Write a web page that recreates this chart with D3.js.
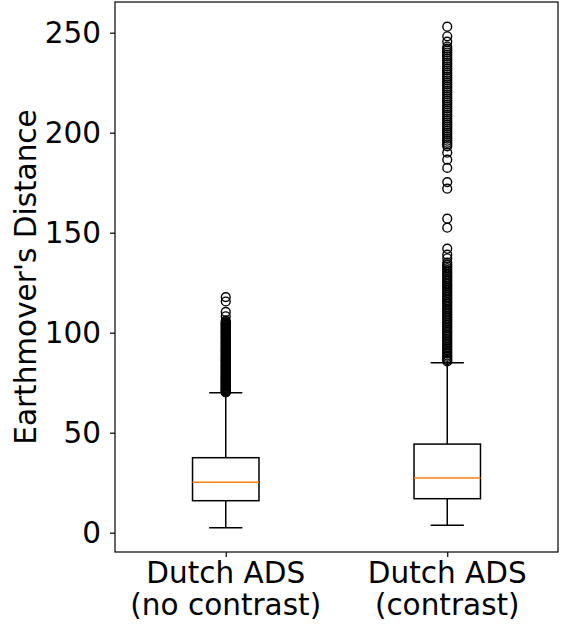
<!DOCTYPE html>
<html>
<head>
<meta charset="utf-8">
<script src="https://cdn.jsdelivr.net/npm/d3@7"></script>
<style>
  html, body { margin: 0; padding: 0; background: #fff; }
  svg { display: block; font-family: "DejaVu Sans", sans-serif; }
</style>
</head>
<body>
<svg id="chart" width="565" height="635"></svg>
<script>
// ---- data ----
const categories = [["Dutch ADS", "(no contrast)"], ["Dutch ADS", "(contrast)"]];
const positions = [1, 2];
const whiskerLow = [2.5, 3.7];
const q1 = [16.0, 17.0];
const median = [25.2, 27.3];
const q3 = [37.5, 44.3];
const whiskerHigh = [70.0, 85.0];
const outliersNoContrast = [70.1, 70.3, 70.6, 70.8, 71.2, 71.5, 71.8, 72.1, 72.5, 72.9, 73.2, 73.4, 73.8, 74.2,
  74.6, 75.0, 75.3, 75.6, 76.0, 76.3, 76.7, 77.1, 77.4, 77.8, 78.1, 78.4, 78.8, 79.2, 79.6, 80.0, 80.3, 80.7,
  81.1, 81.5, 81.8, 82.2, 82.6, 83.0, 83.3, 83.6, 84.0, 84.5, 84.9, 85.3, 85.7, 86.1, 86.4, 86.8, 87.2, 87.5,
  88.0, 88.4, 88.8, 89.2, 89.7, 90.1, 90.5, 90.9, 91.2, 91.6, 92.1, 92.5, 92.9, 93.3, 93.8, 94.2, 94.6, 95.0,
  95.4, 95.9, 96.3, 96.7, 97.2, 97.6, 98.0, 98.4, 98.9, 99.3, 99.8, 100.2, 100.6, 101.0, 101.5, 101.9, 102.4,
  102.8, 103.2, 103.6, 104.1, 104.5, 104.9, 105.3, 106.0, 108.2, 110.4, 115.6, 117.8];
const outliersContrast = [85.6, 86.3, 87.1, 87.9, 88.6, 89.5, 90.3, 91.2, 92.0, 92.8, 93.7, 94.5, 95.4, 96.2,
  97.1, 98.0, 98.8, 99.7, 100.5, 101.4, 102.3, 103.1, 104.0, 104.9, 105.7, 106.6, 107.5, 108.3, 109.2, 110.1,
  111.0, 111.8, 112.7, 113.6, 114.5, 115.3, 116.2, 117.1, 118.0, 118.9, 119.8, 120.6, 121.5, 122.4, 123.3,
  124.2, 125.1, 126.0, 126.8, 127.7, 128.6, 129.5, 130.4, 131.3, 132.2, 133.1, 134.0, 135.0, 137.2, 139.0,
  142.0, 152.5, 157.0, 172.0, 175.3, 182.4, 186.5, 190.0, 193.2, 194.1, 195.0, 196.0, 197.0, 198.0, 199.1,
  200.0, 201.0, 202.1, 203.0, 204.0, 205.1, 206.0, 207.1, 208.1, 209.0, 210.1, 211.0, 212.1, 213.0, 214.1,
  215.1, 216.0, 217.1, 218.0, 219.1, 220.1, 221.0, 222.1, 223.0, 224.1, 225.0, 226.1, 227.1, 228.0, 229.1,
  230.0, 231.1, 232.0, 233.1, 234.1, 235.0, 236.1, 237.0, 238.1, 239.0, 240.1, 241.1, 242.0, 243.1, 245.5,
  248.2, 253.0];
const outliers = [outliersNoContrast, outliersContrast];
const yTicks = [0, 50, 100, 150, 200, 250];
const yLabel = "Earthmover's Distance";

// ---- layout ----
const svg = d3.select("#chart");
const L = 115, R = 558, T = 2, B = 552;
const x = d3.scaleLinear().domain([0.5, 2.5]).range([L, R]);
const y = d3.scaleLinear().domain([-9.65, 265.35]).range([B, T]);
const boxW = 0.3, capW = 0.15;
const fontSize = 29.5;
const lw = 1.5;

// boxes
positions.forEach((p, i) => {
  const g = svg.append("g");
  g.append("line").attr("x1", x(p)).attr("x2", x(p)).attr("y1", y(whiskerLow[i])).attr("y2", y(q1[i]))
    .attr("stroke", "#000").attr("stroke-width", lw);
  g.append("line").attr("x1", x(p)).attr("x2", x(p)).attr("y1", y(q3[i])).attr("y2", y(whiskerHigh[i]))
    .attr("stroke", "#000").attr("stroke-width", lw);
  [whiskerLow[i], whiskerHigh[i]].forEach(v => {
    g.append("line").attr("x1", x(p - capW / 2)).attr("x2", x(p + capW / 2)).attr("y1", y(v)).attr("y2", y(v))
      .attr("stroke", "#000").attr("stroke-width", lw);
  });
  g.append("rect").attr("x", x(p - boxW / 2)).attr("width", x(p + boxW / 2) - x(p - boxW / 2))
    .attr("y", y(q3[i])).attr("height", y(q1[i]) - y(q3[i]))
    .attr("fill", "none").attr("stroke", "#000").attr("stroke-width", lw);
  g.append("line").attr("x1", x(p - boxW / 2)).attr("x2", x(p + boxW / 2)).attr("y1", y(median[i])).attr("y2", y(median[i]))
    .attr("stroke", "#ff7f0e").attr("stroke-width", lw);
  g.selectAll("circle").data(outliers[i]).enter().append("circle")
    .attr("cx", x(p)).attr("cy", d => y(d)).attr("r", 4.4)
    .attr("fill", "none").attr("stroke", "#000").attr("stroke-width", 1.4);
});

// axes
const yAxis = svg.append("g").attr("transform", `translate(${L},0)`)
  .call(d3.axisLeft(y).tickValues(yTicks).tickSize(5).tickPadding(9));
const xAxis = svg.append("g").attr("transform", `translate(0,${B})`)
  .call(d3.axisBottom(x).tickValues(positions).tickSize(5).tickFormat(""));
[yAxis, xAxis].forEach(a => {
  a.select(".domain").remove();
  a.selectAll(".tick line").attr("stroke", "#000").attr("stroke-width", 1.2);
});
yAxis.selectAll(".tick text").attr("font-size", fontSize).attr("font-family", "DejaVu Sans").attr("fill", "#000");

// x tick labels (two lines)
positions.forEach((p, i) => {
  const t = svg.append("text").attr("text-anchor", "middle").attr("font-size", fontSize).attr("fill", "#000");
  t.append("tspan").attr("x", x(p)).attr("y", 583).text(categories[i][0]);
  t.append("tspan").attr("x", x(p)).attr("y", 615).text(categories[i][1]);
});

// frame
svg.append("rect").attr("x", L).attr("y", T).attr("width", R - L).attr("height", B - T)
  .attr("fill", "none").attr("stroke", "#000").attr("stroke-width", 1.2);

// y label
svg.append("text").attr("transform", `translate(36,${(T + B) / 2}) rotate(-90)`)
  .attr("text-anchor", "middle").attr("font-size", fontSize).attr("fill", "#000").text(yLabel);
</script>
</body>
</html>
